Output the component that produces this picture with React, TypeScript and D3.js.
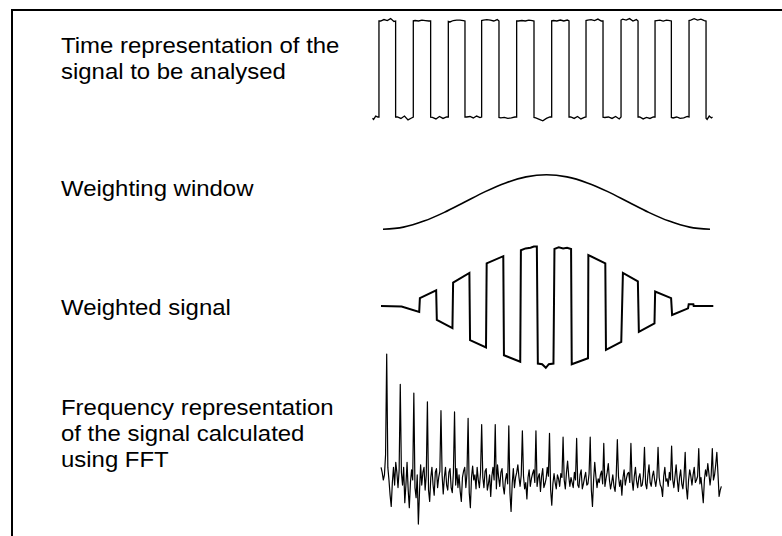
import * as d3 from "d3";

// ---- data ----
// square wave: edge times (0..100 = full record)
const risingEdges = [1.9, 12.0, 22.3, 32.1, 42.4, 52.7, 62.8, 73.1, 83.1, 93.1];
const fallingEdges = [6.8, 17.1, 27.2, 37.2, 47.5, 57.8, 67.8, 78.1, 87.9, 98.1];
const topRipple = [
  [0.0, 0.03, 0.01, 0.05, -0.01],
  [0.01, 0.0, 0.02, 0.01, 0.0],
  [-0.02, 0.01, 0.02, 0.02, 0.01],
  [0.02, 0.03, 0.02, 0.0, 0.03],
  [0.0, 0.01, 0.0, 0.02, 0.01],
  [0.01, 0.0, 0.02, 0.0, 0.02],
  [0.02, 0.03, 0.01, 0.04, 0.0],
  [0.04, 0.02, 0.05, 0.0, 0.03],
  [0.01, 0.02, 0.0, 0.02, 0.01],
  [0.02, 0.05, 0.02, 0.04, 0.01],
];
const bottomRipple = [
  [-0.05, 0.02, 0.0],
  [0.0, -0.03, 0.02, -0.06, -0.02],
  [-0.01, -0.04, 0.01, -0.03, 0.0],
  [0.0, 0.01, -0.02, 0.02, -0.01],
  [-0.02, -0.01, -0.03, -0.02, 0.0],
  [-0.02, -0.05, -0.08, -0.03, 0.0],
  [0.0, -0.03, 0.01, -0.04, -0.01],
  [-0.01, 0.0, -0.03, 0.01, -0.04],
  [0.0, -0.04, -0.01, -0.03, 0.0],
  [-0.02, 0.0, -0.03, -0.02, 0.01],
  [-0.05, 0.02, -0.02],
];

// weighting window (Hann-like), 17 readings
const windowValues = [0, 0.04, 0.15, 0.31, 0.5, 0.69, 0.85, 0.96, 1.0, 0.96, 0.85, 0.69, 0.5, 0.31, 0.15, 0.04, 0];

// weighted signal vertices
const weightedTimes = [
  0, 6.2, 11.5, 11.7, 16.6, 16.8, 21.5, 21.7, 26.6, 26.8, 31.6, 31.8, 36.8, 37.0, 41.9, 42.1,
  43.5, 45.0, 46.0, 46.9, 47.2, 48.5, 49.6, 50.5, 51.9, 52.2, 53.5, 54.8, 56.0, 57.2,
  57.4, 62.3, 62.4, 67.5, 67.7, 72.3, 72.8, 77.3, 77.6, 82.3, 82.5, 87.3, 87.6, 92.4, 92.6, 94.0, 94.1, 100,
];
const weightedValues = [
  0, -0.01, -0.1, 0.13, 0.26, -0.23, -0.37, 0.39, 0.55, -0.57, -0.69, 0.71, 0.83, -0.82, -0.93, 0.93,
  0.96, 0.97, 0.99, 0.99, -0.96, -0.97, -1.03, -0.97, -0.96, 0.95, 0.98, 0.96, 0.97, 0.95,
  -0.97, -0.87, 0.85, 0.71, -0.73, -0.6, 0.55, 0.41, -0.43, -0.29, 0.24, 0.13, -0.15, -0.04, 0.03, 0.03, 0, 0,
];

// spectrum: harmonic peaks and the noise between them
const fftLead = [10, 6, 0, 4, 20];
const fftPeaks = [100, 76, 69, 62, 55, 54, 49, 44, 44, 43, 39, 39, 37, 34, 33, 34, 29, 32, 29, 26, 26, 27, 22, 25, 25];
const fftNoise = [
  [10, 0, -12, -21, -2, 10, -4, 14, 6, -6, 8],
  [6, -4, 10, -18, -4, 14, -8, -22, -2, 8, 0],
  [-6, -14, 4, -35, -10, 12, -4, 6, 10, -8, 4],
  [-8, -17, 2, 10, -4, -12, 6, 9, -6, 2, 7],
  [4, -11, 2, 10, -4, -8, 6, 9, -6, -10, 6],
  [-4, 9, -6, 4, -9, -17, 2, 7, 10, -6, 5],
  [-10, -22, 2, 11, 0, 4, -7, 10, 0, -6, 6],
  [2, -6, 7, 9, -8, -3, 4, -13, 3, 10, 0],
  [-7, 12, 2, -5, 6, 9, -5, -11, 0, 5, -3],
  [-10, -25, -3, 9, -6, 2, 6, 12, 2, -5, 4],
  [3, -7, -2, -15, 2, 8, -5, 1, 5, 8, -2],
  [-5, 2, 5, -9, 3, 9, -6, -3, 1, 10, 3],
  [-8, -20, -3, 5, -2, -7, 4, 1, -5, 5, 2],
  [0, -7, 6, 15, 3, -5, 2, -2, -6, 6, 0],
  [-4, -6, 4, 8, -7, -3, 2, 6, -4, -3, 5],
  [-8, -21, 0, 14, 3, -6, 1, -2, 4, 7, -3],
  [-5, 1, 6, 13, 0, -7, -2, 4, -5, -9, 3],
  [3, -5, 0, -12, 2, 8, -4, 1, 5, 6, -2],
  [0, -8, 3, 10, -1, -6, 2, 5, -5, -4, 3],
  [-3, -7, 4, 12, -2, -5, 3, 7, 0, -5, 2],
  [2, -4, -6, -13, 3, 10, -1, 1, -5, 6, 0],
  [0, -6, 3, 12, 0, -9, 2, 8, -3, -7, 3],
  [-6, -15, 0, 8, 3, -4, 4, 10, -2, 0, 3],
  [-3, 2, -8, -18, 0, 8, 3, 13, 5, -4, 4],
  [0, 4, 12, 22, 5, -13, -8, -5],
];

const labels = [
  { lines: ["Time representation of the", "signal to be analysed"], y: 53 },
  { lines: ["Weighting window"], y: 196 },
  { lines: ["Weighted signal"], y: 315 },
  { lines: ["Frequency representation", "of the signal calculated", "using FFT"], y: 415 },
];

const FONT = "'Liberation Sans', Arial, sans-serif";

function buildSquare() {
  const pts: [number, number][] = [];
  const pushPlateau = (t0: number, t1: number, level: number, ripple: number[]) => {
    pts.push([t0, level + ripple[0] * 0.5]);
    const n = ripple.length;
    ripple.forEach((r, i) => {
      pts.push([t0 + ((t1 - t0) * (i + 0.5)) / n, level + r]);
    });
    pts.push([t1, level]);
  };
  pushPlateau(0, risingEdges[0], -1, bottomRipple[0]);
  risingEdges.forEach((r, i) => {
    pushPlateau(r, fallingEdges[i], 1, topRipple[i]);
    const next = i + 1 < risingEdges.length ? risingEdges[i + 1] : 100;
    pushPlateau(fallingEdges[i], next, -1, bottomRipple[i + 1]);
  });
  return pts;
}

function buildSpectrum() {
  const vals: number[] = [...fftLead];
  fftPeaks.forEach((p, i) => {
    vals.push(p, ...fftNoise[i]);
  });
  return vals;
}

export default function App() {
  // square wave
  const xs = d3.scaleLinear([0, 100], [372.5, 712.5]);
  const ys = d3.scaleLinear([-1, 1], [117, 21]);
  const squareLine = d3
    .line<[number, number]>()
    .x((d) => xs(d[0]))
    .y((d) => ys(d[1]));

  // window
  const xw = d3.scaleLinear([0, windowValues.length - 1], [383, 710]);
  const yw = d3.scaleLinear([0, 1], [229.3, 174.7]);
  const windowLine = d3
    .line<number>()
    .x((_, i) => xw(i))
    .y((d) => yw(d))
    .curve(d3.curveMonotoneX);

  // weighted
  const xv = d3.scaleLinear([0, 100], [381, 713.3]);
  const yv = d3.scaleLinear([-1, 1], [366, 246]);
  const weightedLine = d3
    .line<number>()
    .x((_, i) => xv(weightedTimes[i]))
    .y((d) => yv(d));

  // spectrum
  const spectrum = buildSpectrum();
  const binW = 1.1306;
  const xf = d3.scaleLinear([0, spectrum.length - 1], [381.05, 381.05 + (spectrum.length - 1) * binW]);
  const yf = d3.scaleLinear([0, 100], [480, 354]);
  const spectrumLine = d3
    .line<number>()
    .x((_, i) => xf(i))
    .y((d) => yf(d));

  return (
    <svg
      width={782}
      height={536}
      style={{ position: "absolute", left: 0, top: 0, background: "#fff" }}
    >
      <rect width={782} height={536} fill="#fff" />
      <path d="M12,536 V10 H782" fill="none" stroke="#000" strokeWidth={2} />

      {labels.map((l, i) =>
        l.lines.map((s, j) => (
          <text
            key={`${i}-${j}`}
            transform={`translate(61,${l.y + j * 26}) scale(1.064,1)`}
            fontFamily={FONT}
            fontSize={22.5}
            fill="#000"
          >
            {s}
          </text>
        ))
      )}

      <path d={squareLine(buildSquare()) ?? ""} fill="none" stroke="#000" strokeWidth={1.3} />
      <path d={windowLine(windowValues) ?? ""} fill="none" stroke="#000" strokeWidth={1.6} />
      <path d={weightedLine(weightedValues) ?? ""} fill="none" stroke="#000" strokeWidth={2} />
      <path d={spectrumLine(spectrum) ?? ""} fill="none" stroke="#000" strokeWidth={1.2} strokeLinejoin="round" />
    </svg>
  );
}
